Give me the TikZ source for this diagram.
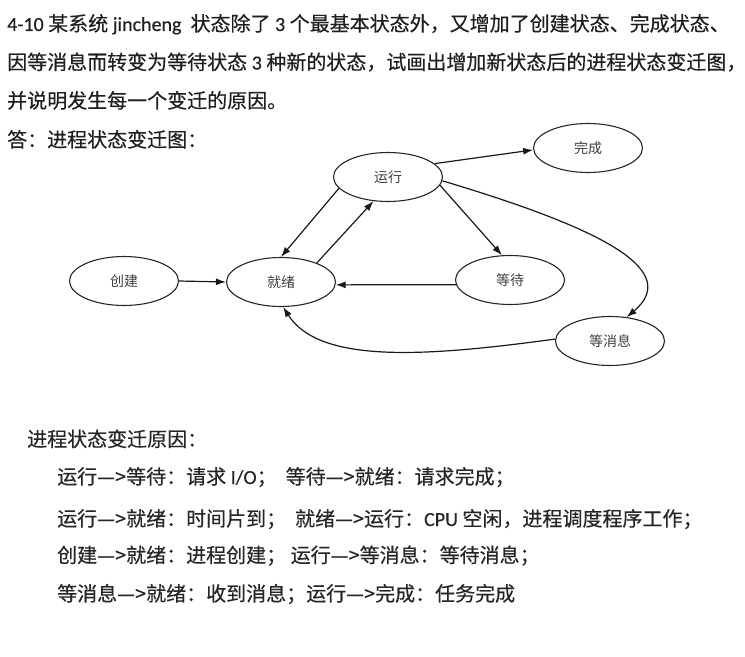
\documentclass[tikz,border=0pt]{standalone}
\usepackage{fontspec}
\setmainfont{Noto Sans CJK SC}[FakeBold=0.4]
\newfontfamily\lat{Carlito}[FakeBold=0.3]
\newfontfamily\lbl{Noto Sans CJK SC}
\usetikzlibrary{shapes.geometric,arrows.meta}
\begin{document}
\begin{tikzpicture}[x=1bp,y=-1bp,
  state/.style={ellipse,draw=black!85,line width=1.1bp,minimum width=109bp,minimum height=49bp,inner sep=0pt,font=\lbl\fontsize{14bp}{16bp}\selectfont,text=black!75},
  edge/.style={draw=black!90,line width=1.2bp,-{Latex[length=10bp,width=7bp]}},
  big/.style={anchor=base west,inner sep=0pt,font=\fontsize{20bp}{24bp}\selectfont,text=black!88},
  small/.style={anchor=base west,inner sep=0pt,font=\fontsize{20bp}{24bp}\selectfont,text=black!85}]
\useasboundingbox[fill=white] (0,0) rectangle (745,657);
% question text
\node[big] (t1) at (7,31) {{\lat 4-10 }某系统{\lat\ jincheng\ \ }状态除了{\lat\ 3 }个最基本状态外，又增加了创建状态、完成状态、};
\node[big] (t2) at (7,69.5) {因等消息而转变为等待状态{\lat\ 3 }种新的状态，试画出增加新状态后的进程状态变迁图，};
\node[big] (t3) at (7,108) {并说明发生每一个变迁的原因。};
\node[big] (t4) at (7,147) {答：进程状态变迁图：};
% states
\node[state] (yx) at (388,177) {运行};
\node[state] (wc) at (588,148) {完成};
\node[state] (cj) at (124,281) {创建};
\node[state] (jx) at (281,282) {就绪};
\node[state] (dd) at (510,280) {等待};
\node[state] (dx) at (610,341) {等消息};
% transitions
\draw[edge] (yx.193) -- (jx.90);
\draw[edge] (jx.28) -- (yx.239);
\draw[edge] (yx.16) -- (wc.182);
\draw[edge] (yx.-9) -- (dd.108);
\draw[edge] (yx.-4) .. controls (590,225) and (685,268) .. (dx.55);
\draw[edge] (dx.178) .. controls (430,356) and (320,365) .. (jx.275);
\draw[edge] (cj.east) -- (jx.west);
\draw[edge] (dd.185) -- (jx.-3);
% reasons
\node[small] (h) at (27,446.5) {进程状态变迁原因：};
\node[small] (r1) at (57,484) {运行—>等待：请求{\lat\ I/O}；\ \ 等待—>就绪：请求完成；};
\node[small] (r2) at (57,526) {运行—>就绪：时间片到；\ \ 就绪—>运行：{\lat CPU }空闲，进程调度程序工作；};
\node[small] (r3) at (57,562.5) {创建—>就绪：进程创建；\ 运行—>等消息：等待消息；};
\node[small] (r4) at (57,601) {等消息—>就绪：收到消息；运行—>完成：任务完成};
\end{tikzpicture}
\end{document}
